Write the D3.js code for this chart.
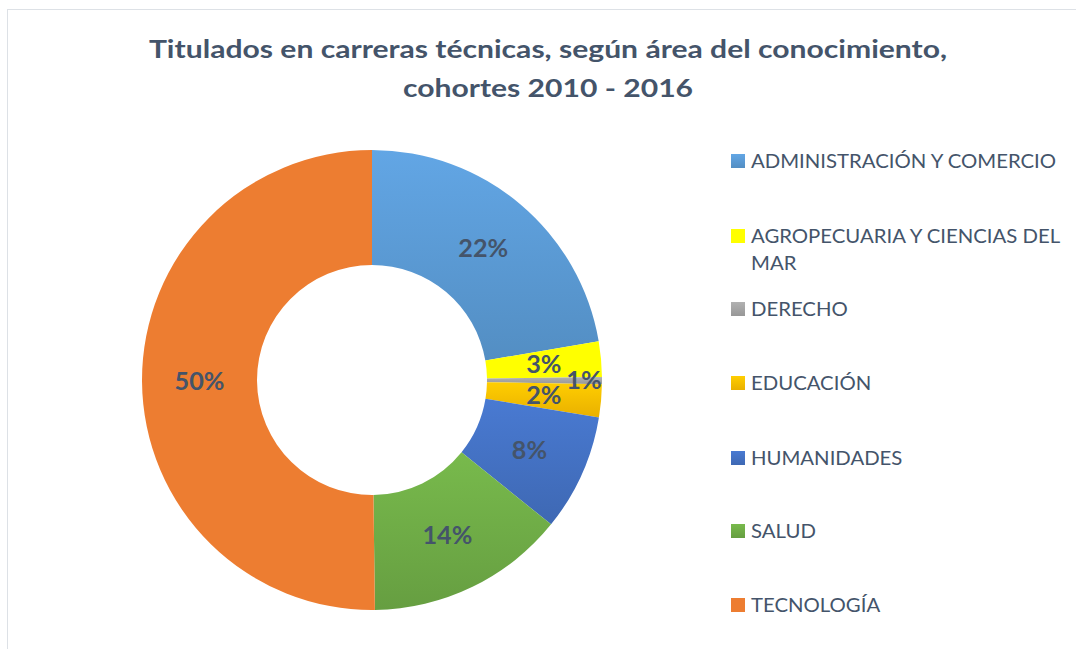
<!DOCTYPE html>
<html>
<head>
<meta charset="utf-8">
<script src="https://cdn.jsdelivr.net/npm/d3@7"></script>
<style>
  body { margin: 0; background: #fff; }
  svg { display: block; font-family: Lato, "Open Sans", sans-serif; }
</style>
</head>
<body>
<svg id="chart" width="1076" height="649"></svg>
<script>
// data (percent of titulados)
var categories = ["ADMINISTRACIÓN Y COMERCIO", "AGROPECUARIA Y CIENCIAS DEL MAR", "DERECHO",
                  "EDUCACIÓN", "HUMANIDADES", "SALUD", "TECNOLOGÍA"];
var values = [22.3, 2.5, 0.5, 2.3, 8.2, 14.0, 50.2];
var colors = ["#5B9BD5", "#FFFF00", "#A5A5A5", "#FFC000", "#4472C4", "#70AD47", "#ED7D31"];
var gradientOn = [true, false, true, true, true, true, false];
var titleLines = ["Titulados en carreras técnicas, según área del conocimiento,", "cohortes 2010 - 2016"];

var svg = d3.select("#chart");
var textColor = "#44546A";

// the original text is a bit wider than Lato, stretch it horizontally
function stretch(sel, factor) {
   sel.each(function() {
      var len = this.getComputedTextLength();
      d3.select(this)
         .attr("textLength", len * factor)
         .attr("lengthAdjust", "spacingAndGlyphs");
   });
}

// frame of the chart area
svg.append("rect")
   .attr("x", 7.5).attr("y", 9.5)
   .attr("width", 1200).attr("height", 800)
   .attr("fill", "none")
   .attr("stroke", "#dde1e6");

// gradients, lighter at the top like the office style
var defs = svg.append("defs");
colors.forEach(function(c, i) {
   var g = defs.append("linearGradient")
      .attr("id", "grad" + i)
      .attr("x1", 0).attr("y1", 0).attr("x2", 0).attr("y2", 1);
   var top = gradientOn[i] ? d3.color(c).brighter(0.2) : d3.color(c);
   var bottom = gradientOn[i] ? d3.color(c).darker(0.25) : d3.color(c);
   g.append("stop").attr("offset", "0%").attr("stop-color", top);
   g.append("stop").attr("offset", "100%").attr("stop-color", bottom);
});

// title
svg.append("g").selectAll("text")
   .data(titleLines)
   .join("text")
   .attr("x", 548)
   .attr("y", (d, i) => 58 + i * 39)
   .attr("text-anchor", "middle")
   .attr("font-size", 25.5)
   .attr("font-weight", "bold")
   .attr("fill", textColor)
   .text(d => d)
   .call(stretch, 1.18);

// donut
var cx = 372, cy = 380, outerR = 230, innerR = 115;

var pie = d3.pie().sort(null).value(d => d);
var arc = d3.arc().innerRadius(innerR).outerRadius(outerR);

var arcs = pie(values);

var donut = svg.append("g").attr("transform", "translate(" + cx + "," + cy + ")");

donut.selectAll("path")
   .data(arcs)
   .join("path")
   .attr("d", arc)
   .attr("fill", (d, i) => "url(#grad" + i + ")");

// derecho's label sits further out in the original
var outerLabelArc = d3.arc().innerRadius(2 * 212 - outerR).outerRadius(outerR);

donut.selectAll("text")
   .data(arcs)
   .join("text")
   .attr("transform", (d, i) => "translate(" + (i == 2 ? outerLabelArc.centroid(d) : arc.centroid(d)) + ")")
   .attr("text-anchor", "middle")
   .attr("dy", "0.36em")
   .attr("font-size", 24)
   .attr("font-weight", "bold")
   .attr("fill", textColor)
   .text(d => Math.round(d.data) + "%")
   .call(stretch, 1.05);

// legend
var legendRows = [161, 236, 309, 383, 458, 531, 605];
var legend = svg.append("g");

var item = legend.selectAll("g")
   .data(categories)
   .join("g")
   .attr("transform", (d, i) => "translate(731," + legendRows[i] + ")");

item.append("rect")
   .attr("x", 0).attr("y", -7)
   .attr("width", 14).attr("height", 14)
   .attr("fill", (d, i) => "url(#grad" + i + ")");

item.each(function(d) {
   // the long label wraps onto a second line
   var lines = d == "AGROPECUARIA Y CIENCIAS DEL MAR" ? ["AGROPECUARIA Y CIENCIAS DEL", "MAR"] : [d];
   d3.select(this).selectAll("text")
      .data(lines)
      .join("text")
      .attr("x", 20)
      .attr("y", (l, k) => k * 27)
      .attr("dy", "0.35em")
      .attr("font-size", 19)
      .attr("fill", textColor)
      .text(l => l)
      .call(stretch, 1.07);
});
</script>
</body>
</html>
